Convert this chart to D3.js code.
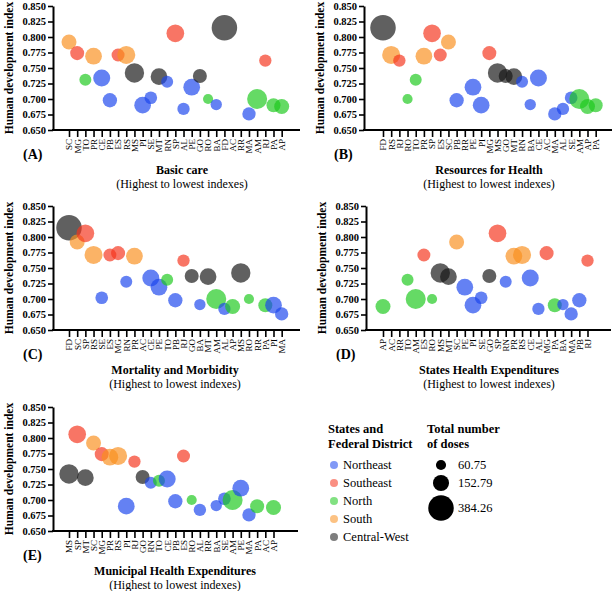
<!DOCTYPE html>
<html>
<head>
<meta charset="utf-8">
<script src="https://cdn.jsdelivr.net/npm/d3@7"></script>
<style>
body { margin: 0; background: #fff; }
text { font-family: "Liberation Serif", "Times New Roman", serif; }
</style>
</head>
<body>
<div id="chart"></div>
<script>
// states (FD = Federal District)
var states  = ["AC","AL","AP","AM","BA","CE","FD","ES","GO","MA","MT","MS","MG","PA","PB","PR","PE","PI","RJ","RN","RS","RO","RR","SC","SP","SE","TO"]
var regions = ["North","Northeast","North","North","Northeast","Northeast","Central-West","Southeast","Central-West","Northeast","Central-West","Central-West","Southeast","North","Northeast","South","Northeast","Northeast","Southeast","Northeast","South","North","North","South","Southeast","Northeast","North"]
var hdi     = [null,0.684,0.688,0.700,0.691,0.734,0.815,0.771,0.737,0.676,0.736,0.742,0.774,0.690,0.698,0.769,0.719,0.690,0.762,0.728,0.771,0.700,null,0.792,0.806,0.702,0.731]
var doses   = [null,90,133,237,76,171,384.26,100,116,105,165,221,116,116,121,165,165,165,90,85,193,60.75,null,133,185,95,85]

// ordering of states in each panel (highest to lowest index)
var orderA = ["SC","MG","TO","PR","CE","PB","ES","RS","MS","PI","SE","MT","RN","SP","AL","PE","GO","RO","BA","FD","AC","RR","MA","AM","RJ","PA","AP"]
var orderB = ["FD","RS","RJ","RO","TO","PR","SP","ES","SC","PB","RR","PE","PI","MG","MS","GO","MT","RN","BA","CE","AC","MA","AL","SE","AM","AP","PA"]
var orderC = ["FD","SC","SP","RS","SE","ES","MG","RN","PR","AC","CE","PE","TO","PB","RJ","GO","BA","MT","AM","AL","AP","MS","RO","RR","PA","PI","MA"]
var orderD = ["AP","AC","RR","TO","AM","ES","RO","MS","MT","SC","PE","PI","SE","GO","SP","RN","PR","RS","CE","AL","MG","PA","BA","MA","PB","RJ"]
var orderE = ["MS","SP","MT","SC","MG","PR","RS","PI","RJ","GO","RN","TO","CE","PB","ES","RO","AL","RR","BA","SE","AM","PE","MA","PA","AC","AP"]

var regionNames = ["Northeast","Southeast","North","South","Central-West"]
var regionColors = ["#1a45ee","#f5331c","#1cc81c","#f98f1e","#141414"]
var legendDoses = [60.75, 152.79, 384.26]
var yTicks = [0.650,0.675,0.700,0.725,0.750,0.775,0.800,0.825,0.850]

var width = 612, height = 591

var color = d3.scaleOrdinal(regionNames, regionColors)
var r = d3.scaleSqrt().domain([0, 384.26]).range([0, 12.75])

var byState = {}
states.forEach((s, i) => byState[s] = {state: s, region: regions[i], hdi: hdi[i], doses: doses[i]})

var panels = [
    {order: orderA, letter: "(A)", title: "Basic care", ox: 53, x0: 69, xEnd: 300, top: 6, tx: 182},
    {order: orderB, letter: "(B)", title: "Resources for Health", ox: 364, x0: 383, xEnd: 612, top: 6, tx: 489},
    {order: orderC, letter: "(C)", title: "Mortality and Morbidity", ox: 53, x0: 69, xEnd: 300, top: 206, tx: 175},
    {order: orderD, letter: "(D)", title: "States Health Expenditures", ox: 366, x0: 383, xEnd: 611, top: 206, tx: 489},
    {order: orderE, letter: "(E)", title: "Municipal Health Expenditures", ox: 53, x0: 69, xEnd: 298, top: 407, tx: 175}
]

var svg = d3.select("#chart").append("svg")
    .attr("width", width)
    .attr("height", height)

var step = 8.18, ph = 124
var fmt = d => d.toFixed(3)

panels.forEach(p => {
    var g = svg.append("g")
    var y = d3.scaleLinear().domain([0.65, 0.85]).range([p.top + ph, p.top])
    var x = d3.scalePoint().domain(p.order).range([p.x0, p.x0 + step * (p.order.length - 1)])

    // bubbles
    g.append("g")
        .selectAll("circle")
        .data(p.order.map(s => byState[s]).filter(d => d.hdi != null))
        .join("circle")
        .attr("cx", d => x(d.state))
        .attr("cy", d => y(d.hdi))
        .attr("r", d => r(d.doses))
        .attr("fill", d => color(d.region))
        .attr("fill-opacity", 0.68)

    // y axis
    var ya = g.append("g")
        .attr("transform", `translate(${p.ox},0)`)
        .call(d3.axisLeft(y).tickValues(yTicks).tickFormat(fmt).tickSize(5).tickSizeOuter(0))
    ya.select(".domain").attr("stroke-width", 2)
    ya.selectAll(".tick line").attr("stroke-width", 1.6)
    ya.selectAll("text").attr("font-size", 10.5).attr("font-weight", "bold").attr("x", -7)

    // x axis
    var base = p.top + ph
    g.append("line")
        .attr("x1", p.ox - 1).attr("x2", p.xEnd)
        .attr("y1", base).attr("y2", base)
        .attr("stroke", "#000").attr("stroke-width", 2)
    var xa = g.append("g")
        .attr("transform", `translate(0,${base})`)
        .call(d3.axisBottom(x).tickSize(7).tickPadding(2))
    xa.select(".domain").remove()
    xa.selectAll(".tick line").attr("stroke-width", 1.6)
    xa.selectAll("text")
        .attr("font-size", 9)
        .attr("transform", "rotate(-90)")
        .attr("text-anchor", "end")
        .attr("dy", "0.32em")
        .attr("x", -9)
        .attr("y", 0)

    // y title
    g.append("text")
        .attr("transform", `translate(${p.ox - 40},${p.top + ph / 2}) rotate(-90)`)
        .attr("text-anchor", "middle")
        .attr("font-size", 11.5)
        .attr("font-weight", "bold")
        .text("Human development index")

    g.append("text")
        .attr("x", p.ox - 30).attr("y", base + 29)
        .attr("font-size", 14).attr("font-weight", "bold")
        .text(p.letter)

    g.append("text")
        .attr("x", p.tx).attr("y", base + 44)
        .attr("text-anchor", "middle")
        .attr("font-size", 12).attr("font-weight", "bold")
        .text(p.title)
    g.append("text")
        .attr("x", p.tx).attr("y", base + 58)
        .attr("text-anchor", "middle")
        .attr("font-size", 12)
        .text("(Highest to lowest indexes)")
})

// legend: regions
var lg = svg.append("g").attr("font-size", 12.5)
lg.append("text").attr("x", 328).attr("y", 433).attr("font-weight", "bold").text("States and")
lg.append("text").attr("x", 328).attr("y", 448).attr("font-weight", "bold").text("Federal District")
var items = lg.selectAll("g.item")
    .data(regionNames)
    .join("g")
    .attr("class", "item")
    .attr("transform", (d, i) => `translate(334,${465 + i * 18})`)
items.append("circle").attr("r", 4).attr("fill", d => color(d)).attr("fill-opacity", 0.55)
items.append("text").attr("x", 9).attr("dy", "0.35em").text(d => d)

// legend: sizes
lg.append("text").attr("x", 427).attr("y", 433).attr("font-weight", "bold").text("Total number")
lg.append("text").attr("x", 427).attr("y", 448).attr("font-weight", "bold").text("of doses")
var sizeY = [465, 483, 508]
var sizes = lg.selectAll("g.size")
    .data(legendDoses)
    .join("g")
    .attr("class", "size")
    .attr("transform", (d, i) => `translate(441,${sizeY[i]})`)
sizes.append("circle").attr("r", d => r(d)).attr("fill", "#000")
sizes.append("text").attr("x", 17).attr("dy", "0.35em").text(d => d3.format(".2f")(d))
</script>
</body>
</html>
